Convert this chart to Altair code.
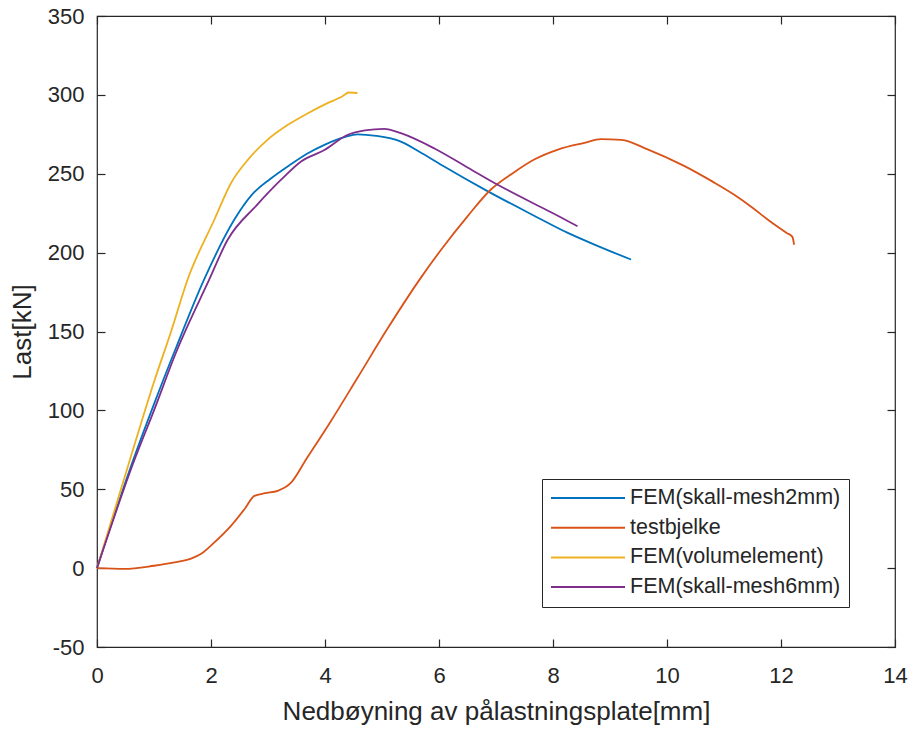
import altair as alt
import pandas as pd

# Load (kN) versus deflection of the loading plate (mm) for each model / test
mesh2_x = [0, 0.63, 1.0, 1.39, 1.88, 2.41, 2.7, 3.05, 3.4, 3.7, 4.0, 4.34, 4.57,
           4.9, 5.33, 5.7, 6.09, 6.85, 7.67, 8.26, 8.8, 9.37]
mesh2_y = [0, 68, 104, 140, 183, 221, 236, 247, 256, 263, 268.5, 273.2, 275,
           274, 270.4, 263, 254.6, 239, 223.4, 212.5, 204, 195.6]

test_x = [0, 0.48, 1.0, 1.36, 1.65, 1.82, 2.05, 2.35, 2.6, 2.76, 2.95, 3.17, 3.4,
          3.67, 4.1, 4.56, 5.1, 5.68, 6.04, 6.5, 6.91, 7.3, 7.67, 8.1, 8.55, 8.84,
          9.2, 9.66, 10.3, 10.8, 11.18, 11.5, 11.77, 12.1, 12.2, 12.23]
test_y = [0, -0.5, 1.5, 3.6, 6, 8.9, 16, 26.8, 38, 45.8, 47.5, 49, 54,
          69, 93, 120, 152, 184, 202, 223, 240, 250.5, 259, 265.5, 269.6, 272,
          271.5, 265.5, 255, 245, 236.7, 228.5, 220.9, 212.5, 210, 205]

volume_x = [0, 0.58, 1.0, 1.3, 1.59, 2.06, 2.35, 2.65, 2.99, 3.35, 3.7, 4.0, 4.3,
            4.42, 4.57]
volume_y = [0, 69, 118, 150, 183, 221, 244, 259, 271.5, 281, 288.4, 294, 299,
            301.5, 301.2]

mesh6_x = [0, 0.63, 1.0, 1.39, 1.97, 2.29, 2.8, 3.28, 3.58, 3.99, 4.4, 4.7, 5.04,
           5.33, 5.92, 6.5, 7.03, 7.67, 8.0, 8.43]
mesh6_y = [0, 66, 100, 137, 183, 208, 230, 248, 257.8, 265, 274.7, 277.5, 278.5,
           275.7, 266, 254, 243, 231, 225, 216.7]

series_names = ["FEM(skall-mesh2mm)", "testbjelke", "FEM(volumelement)", "FEM(skall-mesh6mm)"]
series_colors = ["#0072BD", "#D95319", "#EDB120", "#7E2F8E"]

x_ticks = [0, 2, 4, 6, 8, 10, 12, 14]
y_ticks = [-50, 0, 50, 100, 150, 200, 250, 300, 350]

rows = []
for name, xs, ys in zip(series_names,
                        [mesh2_x, test_x, volume_x, mesh6_x],
                        [mesh2_y, test_y, volume_y, mesh6_y]):
    for i, (a, b) in enumerate(zip(xs, ys)):
        rows.append({"serie": name, "idx": i, "x": a, "y": b})
df = pd.DataFrame(rows)

W, H = 798, 631
TICK = 8
INK = "#262626"
FONT = "Liberation Sans"

x_scale = alt.Scale(domain=[0, 14], nice=False, zero=False)
y_scale = alt.Scale(domain=[-50, 350], nice=False, zero=False)

# plain hyphen for negative labels
plain_label = "datum.value + ''"

# Axes are pulled inside the box by the tick length, so the ticks point inwards
common = dict(grid=False, domain=False, ticks=True, tickSize=TICK, offset=-TICK,
              tickColor=INK, tickWidth=1.2, labelFlush=False, labelOverlap=False)

x_axis = alt.Axis(values=x_ticks, title="Nedbøyning av pålastningsplate[mm]",
                  orient="bottom", labelPadding=18, labelExpr=plain_label, **common)
y_axis = alt.Axis(values=y_ticks, title="Last[kN]", orient="left",
                  labelPadding=13, labelExpr=plain_label, **common)
x_axis_top = alt.Axis(values=x_ticks, title=None, orient="top", labels=False, **common)
y_axis_right = alt.Axis(values=y_ticks, title=None, orient="right", labels=False, **common)

lines = alt.Chart(df).mark_line(strokeWidth=1.8, interpolate="monotone").encode(
    x=alt.X("x:Q", scale=x_scale, axis=x_axis),
    y=alt.Y("y:Q", scale=y_scale, axis=y_axis),
    color=alt.Color(
        "serie:N",
        scale=alt.Scale(domain=series_names, range=series_colors),
        legend=alt.Legend(
            title=None, orient="none", legendX=445, legendY=463,
            symbolType="stroke", symbolSize=5476, symbolStrokeWidth=2,
            clipHeight=22, rowPadding=7.7, labelFontSize=21.5, labelOffset=4,
            padding=8, fillColor="white", strokeColor=INK, labelFont=FONT,
            labelColor=INK, labelLimit=400,
        ),
    ),
    order="idx:Q",
)

# Invisible copy of the curves that carries the mirrored top/right tick axes
mirror = alt.Chart(df).mark_line(strokeOpacity=0).encode(
    x=alt.X("x:Q", scale=x_scale, axis=x_axis_top),
    y=alt.Y("y:Q", scale=y_scale, axis=y_axis_right),
    detail="serie:N",
)

chart = alt.layer(lines, mirror).resolve_axis(
    x="independent", y="independent"
).properties(
    width=W, height=H,
    autosize=alt.AutoSizeParams(type="none"),
    padding={"left": 97, "top": 16, "right": 19, "bottom": 87},
    background="white",
).configure_view(
    stroke=INK, strokeWidth=1.2,
).configure_axis(
    labelFont=FONT, titleFont=FONT, labelColor=INK, titleColor=INK,
    labelFontSize=22, titleFontSize=26, titleFontWeight="normal", titlePadding=12,
)

chart.save("out.html", embed_options={"renderer": "svg", "actions": False})
